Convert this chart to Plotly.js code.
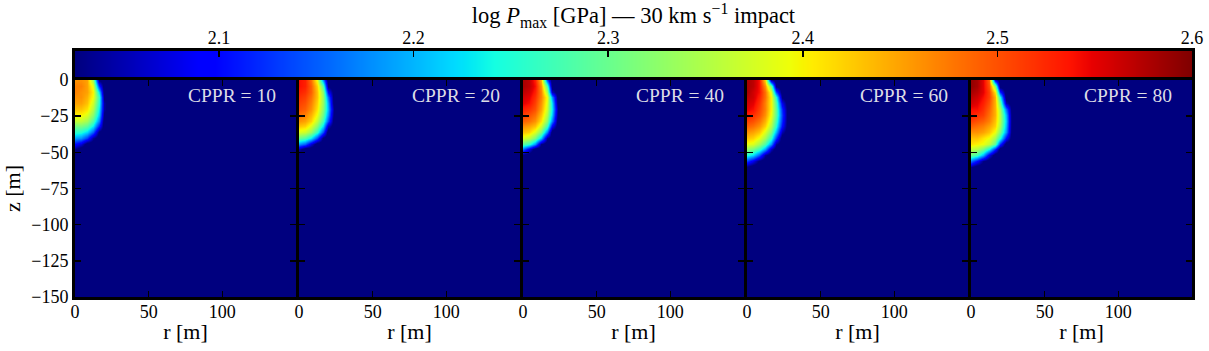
<!DOCTYPE html>
<html>
<head>
<meta charset="utf-8">
<script src="https://cdn.plot.ly/plotly-3.0.1.min.js"></script>
<style>html,body{margin:0;padding:0;background:#fff}</style>
</head>
<body>
<div id="myDiv" style="width:1209px;height:351px"></div>
<script>
// grid of the simulated field (cell centres, m)
var rGrid = [0, 4, 8, 12, 16, 20, 24, 28, 32];
var zGrid = [0, -4, -8, -12, -16, -20, -24, -28, -32, -36, -40, -44, -48, -52, -56, -60];
var cpprLabels = ['CPPR = 10', 'CPPR = 20', 'CPPR = 40', 'CPPR = 60', 'CPPR = 80'];
var cbRange = [2.026, 2.6];
var cbTicks = [2.1, 2.2, 2.3, 2.4, 2.5, 2.6];

// log Pmax [GPa], rows = depth, cols = radius
var pmax10 = [
  [2.46,2.46,2.45,2.33,2.02,2.00,2.00,2.00,2.00],
  [2.47,2.47,2.45,2.38,2.12,2.00,2.00,2.00,2.00],
  [2.47,2.46,2.45,2.40,2.22,2.00,2.00,2.00,2.00],
  [2.46,2.46,2.44,2.39,2.26,2.02,2.00,2.00,2.00],
  [2.45,2.45,2.43,2.37,2.25,2.04,2.00,2.00,2.00],
  [2.43,2.43,2.41,2.35,2.23,2.04,2.00,2.00,2.00],
  [2.40,2.40,2.38,2.32,2.21,2.02,2.00,2.00,2.00],
  [2.36,2.36,2.34,2.28,2.17,2.00,2.00,2.00,2.00],
  [2.31,2.31,2.29,2.23,2.11,2.00,2.00,2.00,2.00],
  [2.26,2.25,2.22,2.15,2.02,2.00,2.00,2.00,2.00],
  [2.19,2.18,2.13,2.04,2.00,2.00,2.00,2.00,2.00],
  [2.10,2.07,2.00,2.00,2.00,2.00,2.00,2.00,2.00],
  [2.03,2.00,2.00,2.00,2.00,2.00,2.00,2.00,2.00],
  [2.00,2.00,2.00,2.00,2.00,2.00,2.00,2.00,2.00],
  [2.00,2.00,2.00,2.00,2.00,2.00,2.00,2.00,2.00],
  [2.00,2.00,2.00,2.00,2.00,2.00,2.00,2.00,2.00]
];
var pmax20 = [
  [2.54,2.53,2.48,2.39,2.18,2.00,2.00,2.00,2.00],
  [2.54,2.53,2.49,2.42,2.28,2.02,2.00,2.00,2.00],
  [2.53,2.52,2.49,2.43,2.32,2.10,2.00,2.00,2.00],
  [2.52,2.51,2.48,2.43,2.33,2.16,2.00,2.00,2.00],
  [2.51,2.50,2.47,2.42,2.33,2.19,2.00,2.00,2.00],
  [2.50,2.49,2.46,2.41,2.32,2.20,2.02,2.00,2.00],
  [2.48,2.47,2.44,2.39,2.30,2.18,2.01,2.00,2.00],
  [2.46,2.45,2.42,2.36,2.27,2.14,2.00,2.00,2.00],
  [2.43,2.42,2.38,2.32,2.22,2.06,2.00,2.00,2.00],
  [2.38,2.37,2.33,2.26,2.14,2.00,2.00,2.00,2.00],
  [2.30,2.28,2.23,2.14,2.02,2.00,2.00,2.00,2.00],
  [2.18,2.15,2.07,2.00,2.00,2.00,2.00,2.00,2.00],
  [2.05,2.00,2.00,2.00,2.00,2.00,2.00,2.00,2.00],
  [2.00,2.00,2.00,2.00,2.00,2.00,2.00,2.00,2.00],
  [2.00,2.00,2.00,2.00,2.00,2.00,2.00,2.00,2.00],
  [2.00,2.00,2.00,2.00,2.00,2.00,2.00,2.00,2.00]
];
var pmax40 = [
  [2.58,2.57,2.53,2.44,2.14,2.00,2.00,2.00,2.00],
  [2.58,2.57,2.54,2.46,2.28,2.00,2.00,2.00,2.00],
  [2.57,2.56,2.53,2.47,2.34,2.06,2.00,2.00,2.00],
  [2.56,2.55,2.52,2.47,2.39,2.18,2.00,2.00,2.00],
  [2.55,2.54,2.51,2.46,2.38,2.22,2.00,2.00,2.00],
  [2.53,2.52,2.50,2.45,2.37,2.23,2.02,2.00,2.00],
  [2.51,2.50,2.48,2.43,2.35,2.21,2.01,2.00,2.00],
  [2.49,2.48,2.46,2.41,2.32,2.17,2.00,2.00,2.00],
  [2.46,2.45,2.43,2.37,2.27,2.09,2.00,2.00,2.00],
  [2.43,2.42,2.38,2.31,2.17,2.00,2.00,2.00,2.00],
  [2.38,2.36,2.31,2.21,2.04,2.00,2.00,2.00,2.00],
  [2.29,2.26,2.18,2.03,2.00,2.00,2.00,2.00,2.00],
  [2.16,2.08,2.00,2.00,2.00,2.00,2.00,2.00,2.00],
  [2.02,2.00,2.00,2.00,2.00,2.00,2.00,2.00,2.00],
  [2.00,2.00,2.00,2.00,2.00,2.00,2.00,2.00,2.00],
  [2.00,2.00,2.00,2.00,2.00,2.00,2.00,2.00,2.00]
];
var pmax60 = [
  [2.58,2.57,2.54,2.42,2.05,2.00,2.00,2.00,2.00],
  [2.58,2.57,2.54,2.46,2.30,2.02,2.00,2.00,2.00],
  [2.58,2.56,2.54,2.48,2.38,2.14,2.00,2.00,2.00],
  [2.57,2.56,2.53,2.48,2.40,2.25,2.02,2.00,2.00],
  [2.56,2.55,2.52,2.47,2.40,2.28,2.08,2.00,2.00],
  [2.55,2.54,2.51,2.47,2.40,2.29,2.12,2.00,2.00],
  [2.53,2.52,2.50,2.46,2.39,2.29,2.13,2.00,2.00],
  [2.51,2.50,2.48,2.44,2.37,2.27,2.12,2.00,2.00],
  [2.49,2.48,2.46,2.42,2.35,2.25,2.10,2.00,2.00],
  [2.46,2.45,2.43,2.38,2.31,2.20,2.05,2.00,2.00],
  [2.43,2.42,2.39,2.34,2.26,2.13,2.00,2.00,2.00],
  [2.39,2.38,2.34,2.28,2.18,2.04,2.00,2.00,2.00],
  [2.33,2.31,2.27,2.19,2.06,2.00,2.00,2.00,2.00],
  [2.25,2.22,2.15,2.04,2.00,2.00,2.00,2.00,2.00],
  [2.13,2.08,2.02,2.00,2.00,2.00,2.00,2.00,2.00],
  [2.02,2.00,2.00,2.00,2.00,2.00,2.00,2.00,2.00]
];
var pmax80 = [
  [2.59,2.58,2.55,2.49,2.08,2.00,2.00,2.00,2.00],
  [2.59,2.58,2.55,2.50,2.32,2.00,2.00,2.00,2.00],
  [2.58,2.57,2.55,2.51,2.41,2.12,2.00,2.00,2.00],
  [2.57,2.56,2.54,2.51,2.44,2.24,2.00,2.00,2.00],
  [2.56,2.55,2.53,2.50,2.44,2.30,2.05,2.00,2.00],
  [2.54,2.54,2.52,2.49,2.44,2.34,2.16,2.00,2.00],
  [2.53,2.52,2.51,2.48,2.44,2.35,2.20,2.00,2.00],
  [2.51,2.50,2.49,2.47,2.43,2.35,2.21,2.00,2.00],
  [2.49,2.48,2.47,2.45,2.42,2.34,2.20,2.00,2.00],
  [2.46,2.46,2.45,2.43,2.39,2.31,2.18,2.00,2.00],
  [2.43,2.43,2.41,2.39,2.34,2.25,2.10,2.00,2.00],
  [2.41,2.40,2.39,2.36,2.29,2.12,2.00,2.00,2.00],
  [2.36,2.35,2.31,2.24,2.12,2.00,2.00,2.00,2.00],
  [2.30,2.27,2.20,2.08,2.00,2.00,2.00,2.00,2.00],
  [2.16,2.10,2.03,2.00,2.00,2.00,2.00,2.00,2.00],
  [2.03,2.00,2.00,2.00,2.00,2.00,2.00,2.00,2.00]
];
var panels = [pmax10, pmax20, pmax40, pmax60, pmax80];

// matplotlib-style jet
var jet = [
  [0, 'rgb(0,0,127)'], [0.11, 'rgb(0,0,255)'], [0.125, 'rgb(0,0,255)'],
  [0.34, 'rgb(0,219,255)'], [0.35, 'rgb(0,229,247)'], [0.375, 'rgb(20,255,226)'],
  [0.64, 'rgb(239,255,8)'], [0.65, 'rgb(247,245,0)'], [0.66, 'rgb(255,236,0)'],
  [0.89, 'rgb(255,19,0)'], [0.91, 'rgb(232,0,0)'], [1, 'rgb(127,0,0)']
];

var serif = 'Liberation Serif, DejaVu Serif, serif';
// plot area: x 75..1192 (1117 px), y 51..297 (246 px); whole pixels so shared borders coincide
var panelW = 221, gap = 3;
var W = 5 * panelW + 4 * gap, H = 246;
var panelTop = 217 / H;          // panels from 297 up to 80
var stripBottom = 220 / H;       // colour strip from 77 up to 51

var data = [];
var layout = {
  width: 1209, height: 351,
  margin: {l: 75, r: 1209 - 75 - W, t: 51, b: 54, autoexpand: false},
  paper_bgcolor: 'white',
  plot_bgcolor: '#00007f',
  font: {family: serif, size: 18, color: 'black'},
  showlegend: false,
  title: {
    text: 'log <i>P</i><sub>max</sub> [GPa] — 30 km s<sup>−1</sup> impact',
    font: {size: 22.5}, x: 0.5, xref: 'paper', y: 0.957, yref: 'container', yanchor: 'middle'
  },
  coloraxis: {colorscale: jet, cmin: cbRange[0], cmax: cbRange[1], showscale: false},
  annotations: []
};

for (var i = 0; i < panels.length; i++) {
  var sx = i === 0 ? '' : String(i + 1);
  var x0 = i * (panelW + gap);
  data.push({
    type: 'heatmap', x: rGrid, y: zGrid, z: panels[i],
    zsmooth: 'best', coloraxis: 'coloraxis', hoverinfo: 'skip',
    xaxis: 'x' + sx, yaxis: 'y' + sx
  });
  layout['xaxis' + sx] = {
    domain: [x0 / W, (x0 + panelW) / W], anchor: 'y' + sx,
    range: [0, 150], tickvals: [0, 50, 100],
    ticks: 'inside', ticklen: 6, tickwidth: 1.5, tickcolor: 'black',
    ticklabelstandoff: -4,
    showline: true, linewidth: 3, linecolor: 'black', mirror: 'allticks',
    showgrid: false, zeroline: false,
    title: {text: 'r [m]', font: {size: 22}, standoff: 4}
  };
  layout['yaxis' + sx] = {
    domain: [0, panelTop], anchor: 'x' + sx,
    range: [-150, 0], tickvals: [0, -25, -50, -75, -100, -125, -150],
    ticks: 'inside', ticklen: 6, tickwidth: 1.5, tickcolor: 'black',
    showline: true, linewidth: 3, linecolor: 'black', mirror: 'allticks',
    showgrid: false, zeroline: false, showticklabels: i === 0,
    title: {text: i === 0 ? 'z [m]' : '', font: {size: 22}}
  };
  layout.annotations.push({
    xref: 'x' + sx, yref: 'y' + sx, x: 138, y: -10.7,
    xanchor: 'right', yanchor: 'middle', showarrow: false,
    text: cpprLabels[i], font: {size: 19.5, color: '#dcdce6'}
  });
}

// colour bar drawn as its own strip with a top axis
data.push({
  type: 'heatmap', x: cbRange, y: [0, 1], z: [cbRange, cbRange],
  zsmooth: 'best', coloraxis: 'coloraxis', hoverinfo: 'skip',
  xaxis: 'x6', yaxis: 'y6'
});
layout.xaxis6 = {
  domain: [0, 1], anchor: 'y6', side: 'top',
  range: cbRange, tickvals: cbTicks, ticktext: cbTicks.map(function (v) { return v.toFixed(1); }),
  ticks: 'inside', ticklen: 6, tickwidth: 1.5, tickcolor: 'black',
  ticklabelstandoff: -3,
  showline: true, linewidth: 3, linecolor: 'black', mirror: true,
  showgrid: false, zeroline: false
};
layout.yaxis6 = {
  domain: [stripBottom, 1], anchor: 'x6', range: [0, 1],
  showticklabels: false, ticks: '', showline: true, linewidth: 3,
  linecolor: 'black', mirror: true, showgrid: false, zeroline: false
};

Plotly.newPlot('myDiv', data, layout, {staticPlot: true});
</script>
</body>
</html>
